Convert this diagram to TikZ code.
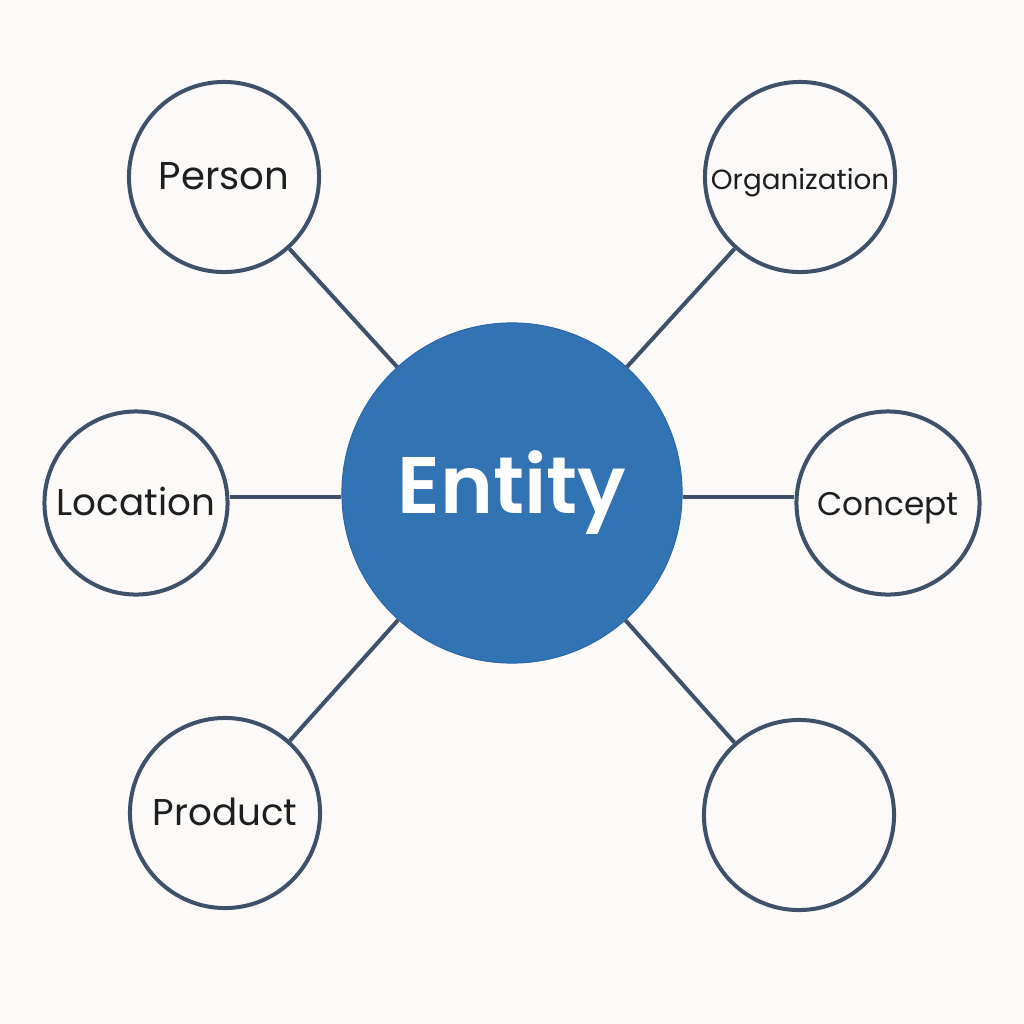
\documentclass[tikz,border=0pt]{standalone}
\usepackage{fontspec}
\setmainfont{Poppins}
\newfontfamily\hubfont{Poppins SemiBold}
\usetikzlibrary{positioning}
\definecolor{paper}{HTML}{FBFAF8}
\definecolor{ring}{HTML}{3F5068}
\definecolor{entityblue}{HTML}{3273B4}
\definecolor{entityedge}{HTML}{2B66AA}
\definecolor{ink}{HTML}{1E1E1E}
\tikzset{
	kind/.style={circle, draw=ring, line width=0.04cm, fill=paper, inner sep=0pt, minimum size=1.90cm, text=ink, text height=1.3ex, text depth=0pt},
	hub/.style={circle, draw=entityedge, line width=0.01cm, fill=entityblue, inner sep=0pt, minimum size=3.40cm, text=white},
	link/.style={draw=ring, line width=0.04cm}
}

\begin{document}
\begin{tikzpicture}[x=0.01cm, y=-0.01cm]
		%%%%% START %%%%%
		
		\fill[paper] (0, 0) rectangle (1024, 1024);
		\useasboundingbox (0, 0) rectangle (1024, 1024);
		
		\node[hub, font=\hubfont\fontsize{22.8}{27}\selectfont] (entity) at (512, 493) {Entity};
		
		\node[kind, font=\fontsize{11}{13}\selectfont] (person) at (224, 177) {Person};
		\node[kind, font=\fontsize{7.9}{10}\selectfont] (organization) at (800, 177) {Organization};
		\node[kind, minimum size=1.83cm, font=\fontsize{10.6}{13}\selectfont] (location) at (136, 503) {Location};
		\node[kind, minimum size=1.83cm, font=\fontsize{9.3}{12}\selectfont] (concept) at (888, 503) {Concept};
		\node[kind, font=\fontsize{10.6}{13}\selectfont] (product) at (225, 813) {Product};
		\node[kind] (other) at (799, 815) {};
		
		\draw[link] (person) -- (entity);
		\draw[link] (organization) -- (entity);
		\draw[link] (location.east |- 0, 497) -- (entity.west |- 0, 497);
		\draw[link] (concept.west |- 0, 497) -- (entity.east |- 0, 497);
		\draw[link] (product) -- (entity);
		\draw[link] (other) -- (entity);
		
		%%%%% END %%%%%
	\end{tikzpicture}
\end{document}
